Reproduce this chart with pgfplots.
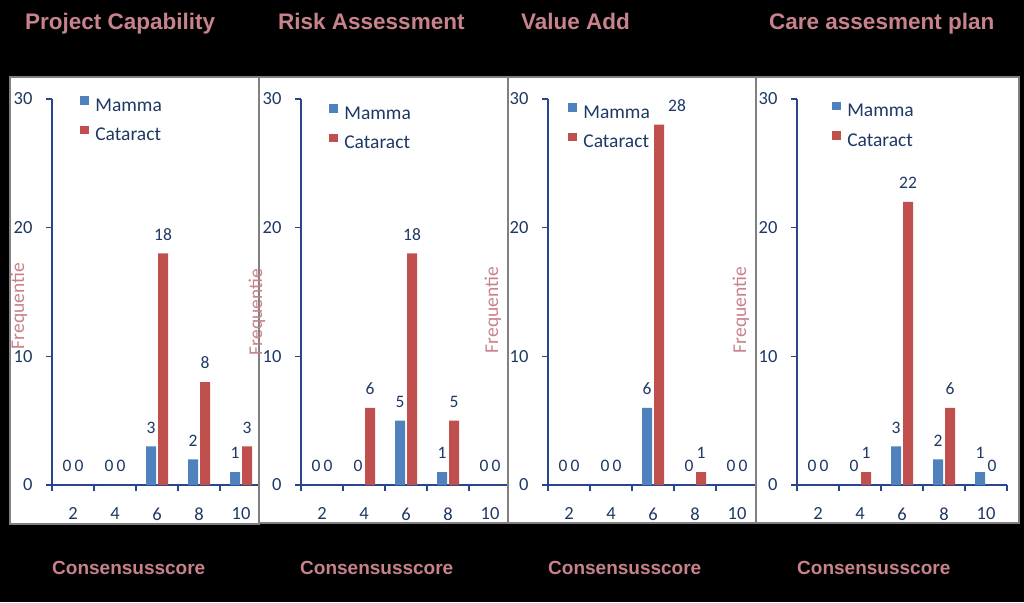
\documentclass[border=0pt]{standalone}
\usepackage{pgfplots}
\pgfplotsset{compat=1.18}
\usepackage{fontspec}
\setmainfont{Carlito}
\newfontfamily\arialfont{Liberation Sans}

\definecolor{barblue}{RGB}{79,129,189}
\definecolor{barred}{RGB}{192,80,77}
\definecolor{navy}{RGB}{31,56,100}
\definecolor{axisblue}{RGB}{40,70,140}
\definecolor{pinkc}{RGB}{200,130,140}
\definecolor{panelgrey}{RGB}{128,128,128}

\pgfplotsset{
  panel/.style={
    scale only axis, width=210pt, height=386pt,
    anchor=south west,
    xmin=1, xmax=11, ymin=0, ymax=30,
    axis lines*=left, axis line style={-, axisblue, line width=1.2pt},
    xtick={1,3,5,7,9,11}, xticklabels={2,4,6,8,10}, x tick label as interval,
    ytick={0,10,20,30},
    tick align=outside, major tick length=6pt,
    tick style={axisblue, line width=1.2pt},
    ticklabel style={font=\fontsize{18.5}{18.5}\selectfont, text=navy},
    yticklabel style={xshift=-10pt},
    xticklabel style={yshift=-13pt},
    /pgf/number format/assume math mode=true,
    ybar, bar width=10pt,
    nodes near coords,
    every node near coord/.append style={font=\fontsize{17.5}{17.5}\selectfont, text=navy, inner sep=0pt, anchor=south, yshift=13pt},
    clip=false,
    legend style={draw=none, fill=none, inner sep=0pt, anchor=north west, font=\fontsize{19.5}{19.5}\selectfont, text=navy,
      nodes={inner sep=0pt, text height=12pt, text depth=3pt}, row sep=11.5pt,
      /tikz/every odd column/.append style={column sep=6.5pt}},
    legend cell align=left,
  },
  sqleg/.style={legend image code/.code={\fill[##1] (0pt,2pt) rectangle (8.5pt,10.5pt);}},
}

\begin{document}
\begin{tikzpicture}[x=1pt,y=1pt]
\fill[black] (0,0) rectangle (1024,602);
\useasboundingbox (0,0) rectangle (1024,602);

% ---------- Panel 1
\filldraw[fill=white, draw=panelgrey, line width=1.2pt] (10,78) rectangle (259,525);
\begin{axis}[panel, at={(52pt,117pt)}, legend style={at={(0.134,1.008)}}]
\addplot[fill=barblue, draw=none, sqleg] coordinates {(2,0) (4,0) (6,3) (8,2) (10,1)};
\addplot[fill=barred, draw=none, sqleg] coordinates {(2,0) (4,0) (6,18) (8,8) (10,3)};
\legend{Mamma,Cataract}
\end{axis}

% ---------- Panel 2
\filldraw[fill=white, draw=panelgrey, line width=1.2pt] (259,79) rectangle (508,525);
\begin{axis}[panel, at={(301pt,117pt)}, legend style={at={(0.134,0.987)}}]
\addplot[fill=barblue, draw=none, sqleg] coordinates {(2,0) (4,0) (6,5) (8,1) (10,0)};
\addplot[fill=barred, draw=none, sqleg] coordinates {(2,0) (4,6) (6,18) (8,5) (10,0)};
\legend{Mamma,Cataract}
\end{axis}

% ---------- Panel 3
\filldraw[fill=white, draw=panelgrey, line width=1.2pt] (508,79) rectangle (757,525);
\begin{axis}[panel, at={(548pt,117pt)}, legend style={at={(0.096,0.990)}}]
\addplot[fill=barblue, draw=none, sqleg] coordinates {(2,0) (4,0) (6,6) (8,0) (10,0)};
\addplot[fill=barred, draw=none, sqleg,
  visualization depends on={value \thisrow{dx}\as\dx},
  every node near coord/.append style={xshift=\dx pt}] table[x=x,y=y] {
x y dx
2 0 0
4 0 0
6 28 18
8 1 0
10 0 0
};
\legend{Mamma,Cataract}
\end{axis}

% ---------- Panel 4
\filldraw[fill=white, draw=panelgrey, line width=1.2pt] (756,79) rectangle (1019,525);
\begin{axis}[panel, at={(797pt,117pt)}, legend style={at={(0.167,0.994)}}]
\addplot[fill=barblue, draw=none, sqleg] coordinates {(2,0) (4,0) (6,3) (8,2) (10,1)};
\addplot[fill=barred, draw=none, sqleg] coordinates {(2,0) (4,1) (6,22) (8,6) (10,0)};
\legend{Mamma,Cataract}
\end{axis}

% ---------- y labels
\foreach \xx/\yy in {19/296, 257/290, 493/292, 741/292}{
  \node[rotate=90, text=pinkc, font=\fontsize{19.5}{19.5}\selectfont, inner sep=0pt] at (\xx,\yy) {Frequentie};
}
% ---------- titles
\begin{scope}[every node/.style={anchor=base west, inner sep=0pt, text=pinkc, font=\arialfont\bfseries\fontsize{22.5}{22.5}\selectfont}]
\node at (25,572) {Project Capability};
\node at (278,572) {Risk Assessment};
\node at (521,572) {Value Add};
\node at (769,572) {Care assesment plan};
\end{scope}
% ---------- x labels
\begin{scope}[every node/.style={anchor=base west, inner sep=0pt, text=pinkc, font=\arialfont\bfseries\fontsize{19}{19}\selectfont}]
\node at (52,28) {Consensusscore};
\node at (300,28) {Consensusscore};
\node at (548,28) {Consensusscore};
\node at (797,28) {Consensusscore};
\end{scope}
\end{tikzpicture}
\end{document}
